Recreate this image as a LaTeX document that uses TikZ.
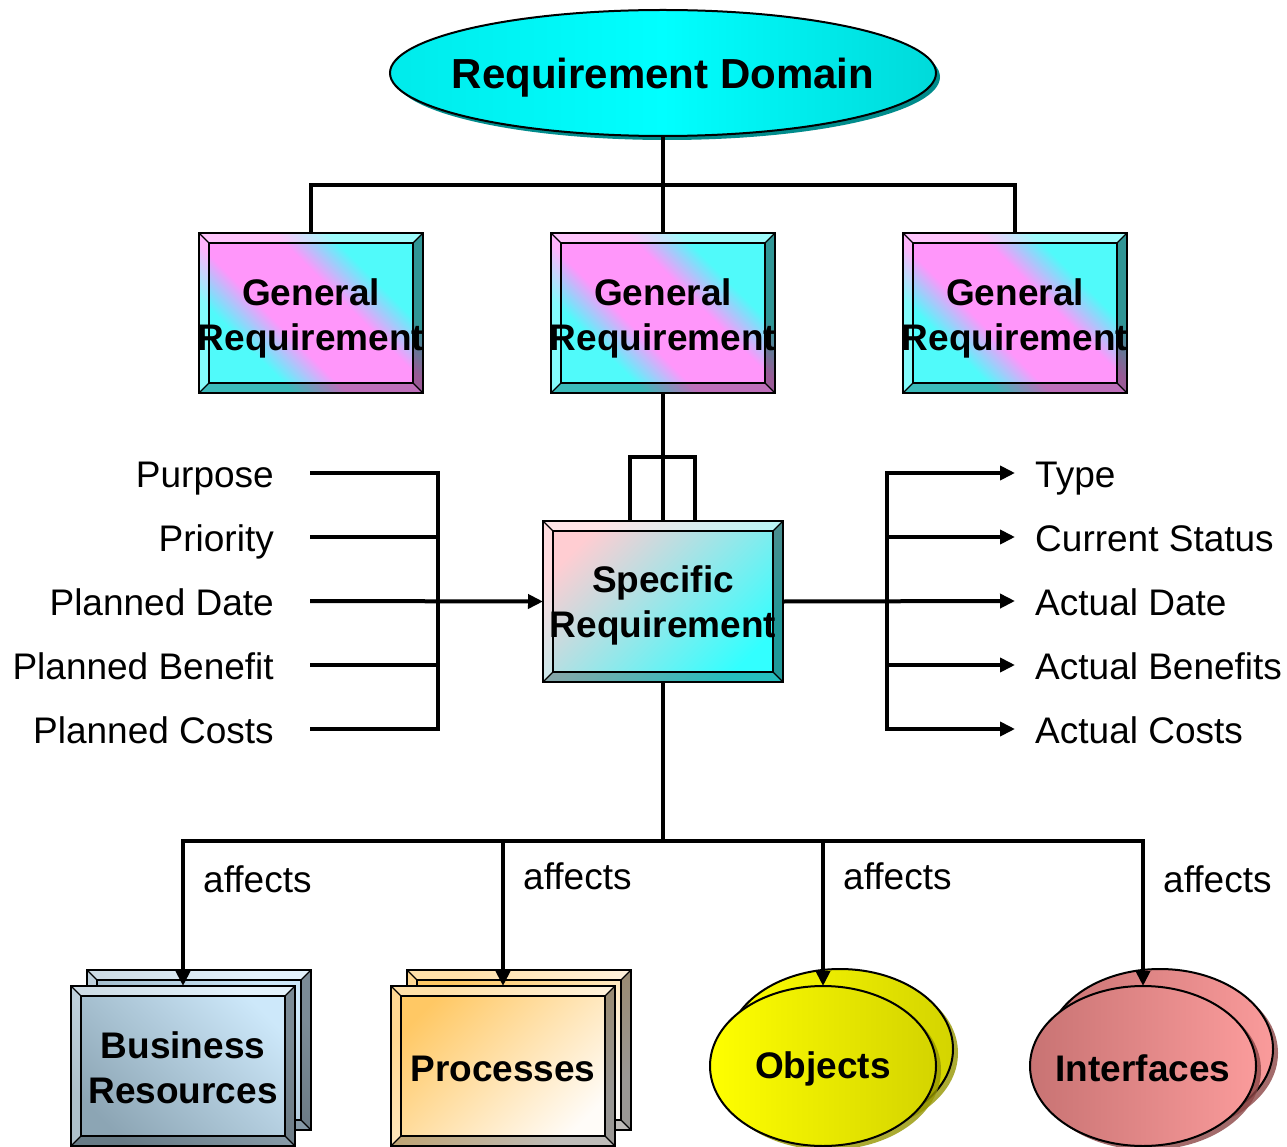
\documentclass[tikz,border=0pt]{standalone}
\usepackage{fontspec}
\setmainfont{Liberation Sans}
\usetikzlibrary{shapes.geometric,arrows.meta,shadows,calc}
\definecolor{cyA}{RGB}{0,235,235}
\definecolor{cyB}{RGB}{0,255,255}
\definecolor{cyC}{RGB}{0,218,218}
\definecolor{cyShadow}{RGB}{0,140,140}
\definecolor{gCyan}{RGB}{80,250,250}
\definecolor{gPink}{RGB}{255,150,250}
\definecolor{sPink}{RGB}{255,205,210}
\definecolor{sCyan}{RGB}{50,255,255}
\definecolor{bLight}{RGB}{205,232,250}
\definecolor{bDark}{RGB}{140,165,180}
\definecolor{pOrange}{RGB}{255,200,100}
\definecolor{pWhite}{RGB}{255,252,248}
\definecolor{oYel}{RGB}{255,255,0}
\definecolor{oOlive}{RGB}{212,212,0}
\definecolor{oShadow}{RGB}{150,150,0}
\definecolor{iDark}{RGB}{200,115,115}
\definecolor{iLight}{RGB}{250,155,155}
\definecolor{iShadow}{RGB}{140,70,70}
\pgfdeclareverticalshading{genshade}{100bp}{color(0bp)=(gCyan); color(32bp)=(gCyan); color(42bp)=(gPink); color(58bp)=(gPink); color(68bp)=(gCyan); color(100bp)=(gCyan)}
\newcommand\myTitleFont{\fontsize{42}{50}\selectfont\bfseries}
\newcommand\myBoxFont{\fontsize{37}{45}\selectfont\bfseries}
\newcommand\myLblFont{\fontsize{37}{45}\selectfont}
\newcommand\bevelbox[2][10]{%
 \fill[white,opacity=.45] (#2.north west) -- (#2.north east) -- ($(#2.north east)+(-#1,#1)$) -- ($(#2.north west)+(#1,#1)$) -- cycle;
 \fill[white,opacity=.3] (#2.north west) -- ($(#2.north west)+(#1,#1)$) -- ($(#2.south west)+(#1,-#1)$) -- (#2.south west) -- cycle;
 \fill[black,opacity=.4] (#2.north east) -- (#2.south east) -- ($(#2.south east)+(-#1,-#1)$) -- ($(#2.north east)+(-#1,#1)$) -- cycle;
 \fill[black,opacity=.25] (#2.south west) -- (#2.south east) -- ($(#2.south east)+(-#1,-#1)$) -- ($(#2.south west)+(#1,-#1)$) -- cycle;
 \draw[line width=2pt] ($(#2.north west)+(#1,#1)$) rectangle ($(#2.south east)+(-#1,-#1)$);
 \draw[line width=1.2pt] (#2.north west) -- ++(#1,#1) (#2.north east) -- ++(-#1,#1) (#2.south west) -- ++(#1,-#1) (#2.south east) -- ++(-#1,-#1);
 \draw[line width=2pt] (#2.north west) rectangle (#2.south east);
}
\begin{document}
\begin{tikzpicture}[x=1pt,y=-1pt,
  ln/.style={line width=4pt},
  arr/.style={line width=4pt,-{Triangle[length=15pt,width=14pt]}},
  bx/.style={line width=2pt,inner sep=0pt,outer sep=0pt,minimum width=224pt,minimum height=160pt},
  boxtxt/.style={font=\myBoxFont,align=center,inner sep=0pt},
  lbl/.style={font=\myLblFont,inner sep=0pt},
  ell/.style={ellipse,draw,line width=2pt,inner sep=0pt,outer sep=0pt,minimum width=226pt,minimum height=160pt}
]
\useasboundingbox (0,0) rectangle (1287,1147);

% top ellipse
\node[ellipse,draw,line width=2pt,minimum width=546pt,minimum height=126pt,inner sep=0pt,outer sep=0pt,
  left color=cyA,right color=cyC,middle color=cyB,
  drop shadow={shadow xshift=4pt,shadow yshift=-4pt,fill=cyShadow,opacity=1}] (rd) at (663,73) {};
\node[font=\myTitleFont,inner sep=0pt] (rdt) at (663,78) {Requirement Domain};

% general requirement boxes
\foreach \n/\x in {g1/311,g2/663,g3/1015}{
  \node[bx,shading=genshade,shading angle=-45] (\n) at (\x,313) {};
  \bevelbox{\n}
  \node[boxtxt] (\n t) at (\x,318) {General\\Requirement};
}

% specific requirement
\node[bx,minimum width=240pt,minimum height=161pt,shading=axis,top color=sPink,bottom color=sCyan,shading angle=45] (sr) at (663,601.5) {};
\bevelbox{sr}
\node[boxtxt] (srt) at (663,605) {Specific\\Requirement};

% bottom shapes
\node[bx,shading=axis,top color=bLight,bottom color=bDark,shading angle=-45] (brb) at (199,1050) {};
\bevelbox{brb}
\node[bx,shading=axis,top color=bLight,bottom color=bDark,shading angle=-45] (br) at (183,1066) {};
\bevelbox{br}
\node[boxtxt] (brt) at (183,1068) {Business\\Resources};

\node[bx,shading=axis,top color=pOrange,bottom color=pWhite,shading angle=45] (prb) at (519,1050) {};
\bevelbox{prb}
\node[bx,shading=axis,top color=pOrange,bottom color=pWhite,shading angle=45] (pr) at (503,1066) {};
\bevelbox{pr}
\node[boxtxt] (prt) at (503,1069) {Processes};

\node[ell,left color=oYel,right color=oOlive,drop shadow={shadow xshift=5pt,shadow yshift=-4pt,fill=oShadow,opacity=.8}] (obb) at (840,1049) {};
\node[ell,left color=oYel,right color=oOlive,drop shadow={shadow xshift=5pt,shadow yshift=-4pt,fill=oShadow,opacity=.8}] (ob) at (823,1066) {};
\node[boxtxt] (obt) at (823,1069) {Objects};

\node[ell,left color=iDark,right color=iLight,drop shadow={shadow xshift=5pt,shadow yshift=-4pt,fill=iShadow,opacity=.8}] (ifb) at (1160,1049) {};
\node[ell,left color=iDark,right color=iLight,drop shadow={shadow xshift=5pt,shadow yshift=-4pt,fill=iShadow,opacity=.8}] (if) at (1143,1066) {};
\node[boxtxt] (ift) at (1143,1068) {Interfaces};

% top connectors
\coordinate (busT) at (663,185);
\draw[ln] (rd.south) -- (busT);
\draw[ln] (g1.north) |- (busT) -| (g3.north);
\draw[ln] (busT) -- (g2.north);
\draw[ln] (g2.south) -- (sr.north);
\coordinate (lpL) at (630,521);
\coordinate (lpR) at (695,521);
\coordinate (lpTL) at (630,457);
\coordinate (lpTR) at (695,457);
\draw[ln] (lpL) -- (lpTL) -- (lpTR) -- (lpR);

% left attributes
\foreach \i/\y/\t in {1/473/Purpose,2/537/Priority,3/601/Planned Date,4/665/Planned Benefit,5/729/Planned Costs}{
  \node[lbl,anchor=base east] (lt\i) at (274,\y+14) {\t};
  \coordinate (ls\i) at (310,\y);
  \coordinate (lv\i) at (438,\y);
}
\draw[ln] (ls1) -- (lv1) -- (lv5) -- (ls5);
\draw[ln] (ls2) -- (lv2);
\draw[ln] (ls4) -- (lv4);
\draw[arr] (ls3) -- (sr.west);

% right attributes
\foreach \i/\y/\t in {1/473/Type,2/537/Current Status,3/601/Actual Date,4/665/Actual Benefits,5/729/Actual Costs}{
  \node[lbl,anchor=base west] (rt\i) at (1035,\y+14) {\t};
  \coordinate (rv\i) at (887,\y);
  \coordinate (re\i) at (1015,\y);
}
\draw[ln,line cap=rect] (rv1) -- (rv5);
\draw[arr] (sr.east) -- (re3);
\foreach \i in {1,2,4,5}{ \draw[arr] (rv\i) -- (re\i); }

% bottom connectors
\coordinate (busB) at (663,841);
\coordinate (d1) at (183,841);
\coordinate (d2) at (503,841);
\coordinate (d3) at (823,841);
\coordinate (d4) at (1143,841);
\draw[ln] (sr.south) -- (busB);
\draw[ln,line cap=rect] (d1) -- (d4);
\draw[arr] (d1) -- (br.north);
\draw[arr] (d2) -- (pr.north);
\draw[arr] (d3) -- (ob.north);
\draw[arr] (d4) -- (if.north);

\node[lbl,anchor=base west] (af1) at (203,892) {affects};
\node[lbl,anchor=base west] (af2) at (523,889) {affects};
\node[lbl,anchor=base west] (af3) at (843,889) {affects};
\node[lbl,anchor=base west] (af4) at (1163,892) {affects};
\end{tikzpicture}
\end{document}
